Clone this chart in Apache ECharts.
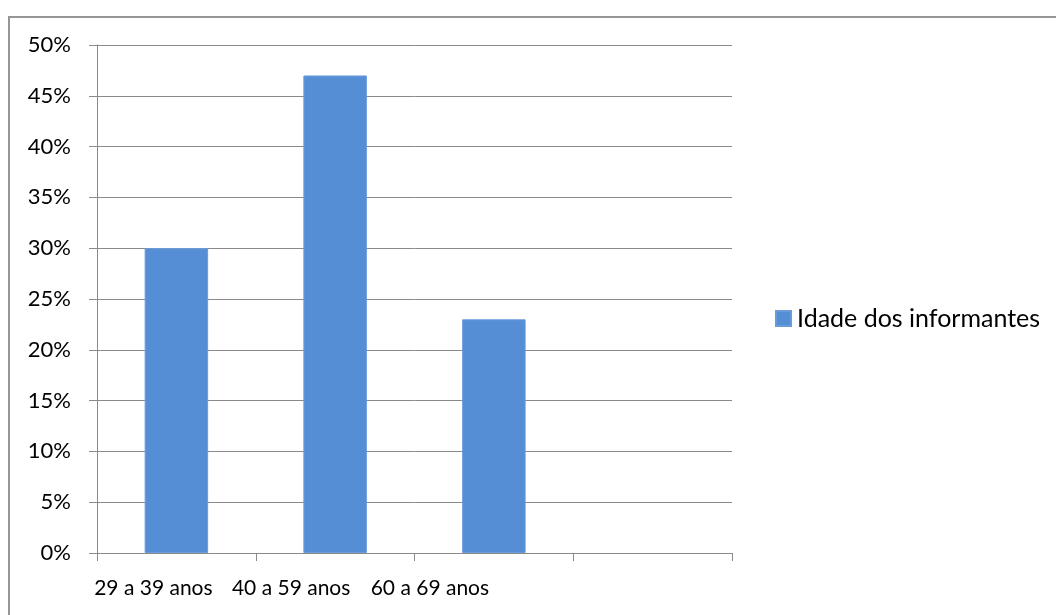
<!DOCTYPE html>
<html>
<head>
<meta charset="utf-8">
<script src="https://cdn.jsdelivr.net/npm/echarts@6/dist/echarts.min.js"></script>
<style>
  html, body { margin: 0; padding: 0; background: #fff; }
  #frame { position: absolute; left: 8px; top: 16px; width: 1100px; height: 700px;
           border-left: 2px solid #969696; border-top: 2px solid #969696; box-sizing: border-box; }
  #chart { position: absolute; left: 0; top: 0; width: 1056px; height: 615px; }
</style>
</head>
<body>
<div id="frame"></div>
<div id="chart"></div>
<script>
// Age groups of the informants, share of total
const categories = ['29 a 39 anos', '40 a 59 anos', '60 a 69 anos', ''];
const shares = [30, 47, 23, null];
const seriesName = 'Idade dos informantes';
const yTicks = { min: 0, max: 50, interval: 5 };

const FONT = 'Lato, "Open Sans", sans-serif';
const gridColor = '#8a8a8a';
const X_FS = 21;
const Y_FS = 22;

const chart = echarts.init(document.getElementById('chart'), null, { renderer: 'canvas' });
chart.setOption({
  animation: false,
  backgroundColor: 'transparent',
  grid: { left: 97, right: 324, top: 45, bottom: 62, containLabel: false },
  legend: {
    data: [seriesName],
    orient: 'vertical',
    left: 775,
    top: 305,
    padding: 0,
    itemWidth: 15,
    itemHeight: 15,
    itemGap: 0,
    icon: 'rect',
    textStyle: { fontFamily: FONT, fontSize: 25, lineHeight: 27, color: '#000', padding: [0, 0, 0, 1] }
  },
  xAxis: {
    type: 'category',
    data: categories,
    axisLine: { lineStyle: { color: gridColor, width: 1 } },
    axisTick: { show: true, length: 8, lineStyle: { color: gridColor } },
    axisLabel: {
      interval: 0,
      margin: 25,
      fontFamily: FONT,
      fontSize: X_FS,
      color: '#000',
      // labels sit left of their category centres, evenly spaced
      formatter: (v, i) => v ? '{c' + i + '|' + v + '}' : '',
      rich: {
        c0: { fontFamily: FONT, fontSize: X_FS, color: '#000', padding: [0, 46, 0, 0] },
        c1: { fontFamily: FONT, fontSize: X_FS, color: '#000', padding: [0, 88, 0, 0] },
        c2: { fontFamily: FONT, fontSize: X_FS, color: '#000', padding: [0, 128, 0, 0] }
      }
    },
    splitLine: { show: false }
  },
  yAxis: {
    type: 'value',
    min: yTicks.min,
    max: yTicks.max,
    interval: yTicks.interval,
    axisLine: { show: true, lineStyle: { color: gridColor, width: 1 } },
    axisTick: { show: true, length: 8, lineStyle: { color: gridColor } },
    axisLabel: {
      margin: 26,
      fontFamily: FONT,
      fontSize: Y_FS,
      color: '#000',
      formatter: v => v + '%'
    },
    splitLine: { show: true, lineStyle: { color: gridColor, width: 1 } }
  },
  series: [{
    name: seriesName,
    type: 'bar',
    data: shares,
    barWidth: '40%',
    itemStyle: { color: '#558ed5', borderColor: '#6a9cdc', borderWidth: 1 }
  }]
});
</script>
</body>
</html>
